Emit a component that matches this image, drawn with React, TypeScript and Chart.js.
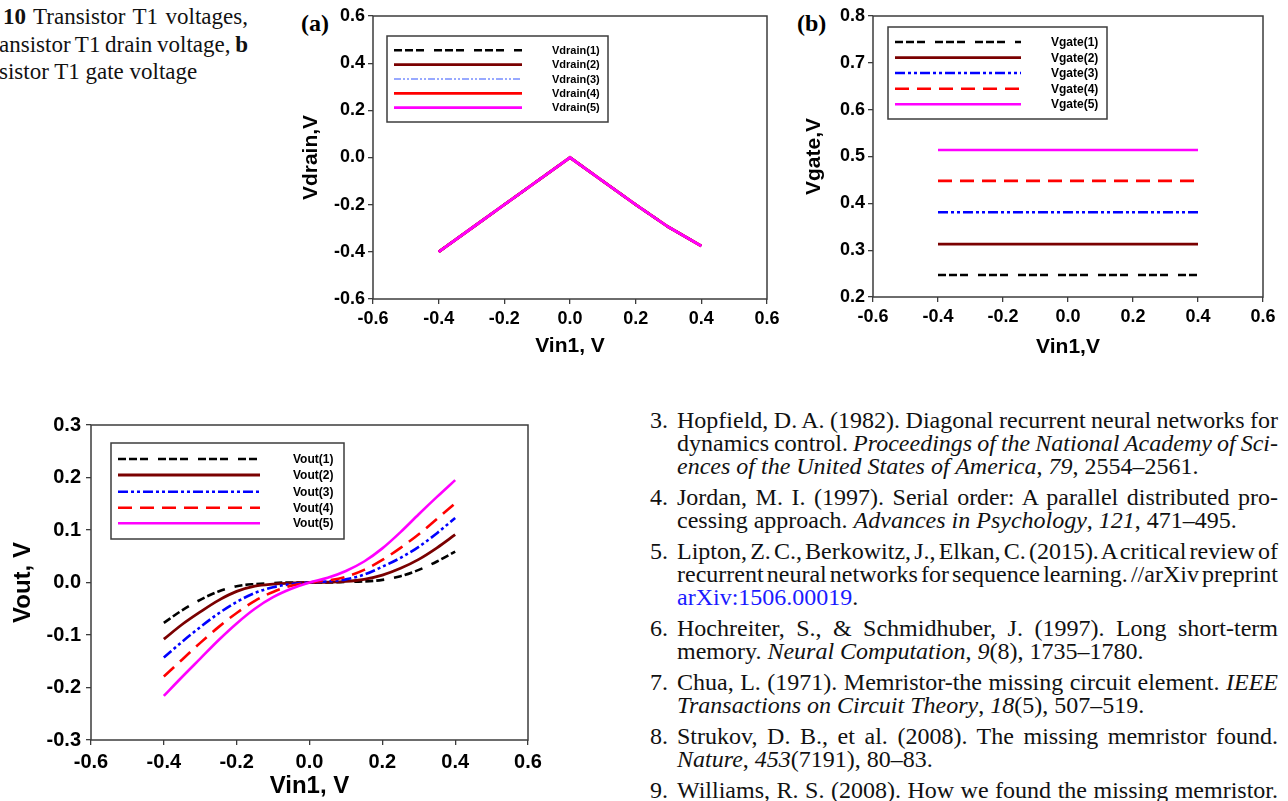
import React, { useEffect, useRef } from "react";
import { Chart, registerables } from "chart.js";
Chart.register(...registerables);

// ---------- data ----------
const VIN = [-0.4, -0.3, -0.2, -0.1, 0, 0.1, 0.2, 0.3, 0.4];
const VDRAIN_1 = [-0.4, -0.3, -0.2, -0.1, 0, -0.1, -0.2, -0.295, -0.375];
const VDRAIN_2 = [-0.4, -0.3, -0.2, -0.1, 0, -0.1, -0.2, -0.295, -0.375];
const VDRAIN_3 = [-0.4, -0.3, -0.2, -0.1, 0, -0.1, -0.2, -0.295, -0.375];
const VDRAIN_4 = [-0.4, -0.3, -0.2, -0.1, 0, -0.1, -0.2, -0.295, -0.375];
const VDRAIN_5 = [-0.4, -0.3, -0.2, -0.1, 0, -0.1, -0.2, -0.295, -0.375];
const VDRAIN_LABELS = ["Vdrain(1)", "Vdrain(2)", "Vdrain(3)", "Vdrain(4)", "Vdrain(5)"];

const VGATE_X = [-0.4, 0.4];
const VGATE_1 = [0.247, 0.247];
const VGATE_2 = [0.313, 0.313];
const VGATE_3 = [0.381, 0.381];
const VGATE_4 = [0.448, 0.448];
const VGATE_5 = [0.514, 0.514];
const VGATE_LABELS = ["Vgate(1)", "Vgate(2)", "Vgate(3)", "Vgate(4)", "Vgate(5)"];

const VOUT_X = [-0.4, -0.35, -0.3, -0.25, -0.2, -0.15, -0.1, -0.05, 0, 0.05, 0.1, 0.15, 0.2, 0.25, 0.3, 0.35, 0.4];
const VOUT_1 = [-0.077, -0.053, -0.033, -0.017, -0.007, -0.003, -0.001, 0, 0, 0, 0.001, 0.002, 0.005, 0.012, 0.024, 0.04, 0.059];
const VOUT_2 = [-0.108, -0.08, -0.056, -0.034, -0.017, -0.007, -0.003, -0.001, 0, 0.0005, 0.002, 0.006, 0.014, 0.027, 0.044, 0.066, 0.091];
const VOUT_3 = [-0.143, -0.113, -0.085, -0.059, -0.037, -0.02, -0.009, -0.003, 0, 0.002, 0.006, 0.015, 0.03, 0.047, 0.068, 0.094, 0.123];
const VOUT_4 = [-0.179, -0.147, -0.115, -0.085, -0.058, -0.035, -0.018, -0.006, 0, 0.004, 0.011, 0.024, 0.043, 0.066, 0.092, 0.121, 0.151];
const VOUT_5 = [-0.216, -0.18, -0.145, -0.11, -0.078, -0.05, -0.028, -0.012, 0, 0.009, 0.022, 0.04, 0.065, 0.096, 0.13, 0.163, 0.195];
const VOUT_LABELS = ["Vout(1)", "Vout(2)", "Vout(3)", "Vout(4)", "Vout(5)"];

const X_TICKS = [-0.6, -0.4, -0.2, 0, 0.2, 0.4, 0.6];
const Y_TICKS_A = [-0.6, -0.4, -0.2, 0, 0.2, 0.4, 0.6];
const Y_TICKS_B = [0.2, 0.3, 0.4, 0.5, 0.6, 0.7, 0.8];
const Y_TICKS_C = [-0.3, -0.2, -0.1, 0, 0.1, 0.2, 0.3];

// ---------- styles ----------
const SANS = '"Liberation Sans", Arial, Helvetica, sans-serif';
const SERIF = '"Liberation Serif", "Times New Roman", Times, serif';
const FRAME = "#3c3c3c";

type Sty = { color: string; dash: number[]; width: number };
const STYLES: Sty[] = [
  { color: "#000000", dash: [8, 3, 8, 3, 8, 10], width: 2.6 },
  { color: "#7a0000", dash: [], width: 2.8 },
  { color: "#0000ff", dash: [10, 3, 3, 3, 3, 3], width: 2.6 },
  { color: "#ff0000", dash: [14, 8], width: 2.6 },
  { color: "#ff00ff", dash: [], width: 2.6 },
];
const STYLES_A: Sty[] = [
  { color: "#000000", dash: [8, 3, 8, 3, 8, 10], width: 2.6 },
  { color: "#7a0000", dash: [], width: 2.8 },
  { color: "#3355ff", dash: [7, 2, 2, 2, 2, 2], width: 1.2 },
  { color: "#ff0000", dash: [], width: 2.8 },
  { color: "#ff00ff", dash: [], width: 2.8 },
];

function makeSets(xs: number[], series: number[][], labels: string[], styles: Sty[], smooth: boolean) {
  return series.map((ys, i) => ({
    label: labels[i],
    data: xs.map((x, j) => ({ x, y: ys[j] })),
    borderColor: styles[i].color,
    backgroundColor: styles[i].color,
    borderDash: styles[i].dash,
    borderWidth: styles[i].width,
    pointRadius: 0,
    fill: false,
    order: series.length - 1 - i,
    cubicInterpolationMode: smooth ? ("monotone" as const) : ("default" as const),
    tension: 0,
  }));
}

type LegendCfg = { x: number; y: number; w: number; h: number; x1: number; x2: number; tx: number; rows: number[]; font: string };

const framePlugin = {
  id: "frameBox",
  afterDraw(chart: any) {
    const { ctx, chartArea } = chart;
    ctx.save();
    ctx.strokeStyle = FRAME;
    ctx.lineWidth = 1.5;
    ctx.setLineDash([]);
    ctx.strokeRect(chartArea.left, chartArea.top, chartArea.right - chartArea.left, chartArea.bottom - chartArea.top);
    ctx.restore();
  },
};

function legendPlugin(cfg: LegendCfg) {
  return {
    id: "boxLegend",
    afterDraw(chart: any) {
      const ctx = chart.ctx;
      ctx.save();
      ctx.fillStyle = "#ffffff";
      ctx.fillRect(cfg.x, cfg.y, cfg.w, cfg.h);
      ctx.strokeStyle = FRAME;
      ctx.lineWidth = 1.5;
      ctx.setLineDash([]);
      ctx.strokeRect(cfg.x, cfg.y, cfg.w, cfg.h);
      chart.data.datasets.forEach((ds: any, i: number) => {
        const ry = cfg.rows[i];
        ctx.beginPath();
        ctx.setLineDash(ds.borderDash || []);
        ctx.strokeStyle = ds.borderColor;
        ctx.lineWidth = ds.borderWidth;
        ctx.moveTo(cfg.x1, ry);
        ctx.lineTo(cfg.x2, ry);
        ctx.stroke();
        ctx.setLineDash([]);
        ctx.fillStyle = "#000";
        ctx.font = cfg.font;
        ctx.textBaseline = "middle";
        ctx.textAlign = "left";
        ctx.fillText(ds.label, cfg.tx, ry + 0.5);
      });
      ctx.restore();
    },
  };
}

const fmt = (v: number) => (Math.abs(v) < 1e-9 ? "0.0" : Number(v).toFixed(1));

type PanelProps = {
  left: number; top: number; width: number; height: number;
  yAxisW: number; padTop: number; padRight: number; xAxisH: number;
  xMin: number; xMax: number; yMin: number; yMax: number;
  xTicks: number[]; yTicks: number[];
  tickSize: number; titleSize: number;
  xTitle: string; yTitle: string; xTitlePad: number; yTitlePad: number;
  xTickPad: number; yTickPad: number;
  datasets: any[]; legend: LegendCfg;
};

function Panel(p: PanelProps) {
  const ref = useRef<HTMLCanvasElement>(null);
  useEffect(() => {
    const tickFont = { family: SANS, size: p.tickSize, weight: "bold" as const };
    const titleFont = { family: SANS, size: p.titleSize, weight: "bold" as const };
    const grid = { drawOnChartArea: false, drawTicks: true, tickLength: 5, color: FRAME, lineWidth: 1.3 };
    const chart = new Chart(ref.current!, {
      type: "line",
      data: { datasets: p.datasets },
      options: {
        responsive: false,
        animation: false,
        devicePixelRatio: 1,
        events: [],
        layout: { padding: { left: 0, top: p.padTop, right: p.padRight, bottom: 0 } },
        plugins: { legend: { display: false }, tooltip: { enabled: false } },
        scales: {
          x: {
            type: "linear",
            min: p.xMin,
            max: p.xMax,
            afterBuildTicks: (s: any) => { s.ticks = p.xTicks.map((v) => ({ value: v })); },
            afterFit: (s: any) => { s.height = p.xAxisH; },
            ticks: { color: "#000", font: tickFont, padding: p.xTickPad, callback: (v: any) => fmt(v), autoSkip: false, maxRotation: 0 },
            grid,
            border: { display: false },
            title: { display: true, text: p.xTitle, color: "#000", font: titleFont, padding: { top: 0, bottom: p.xTitlePad } },
          },
          y: {
            type: "linear",
            min: p.yMin,
            max: p.yMax,
            afterBuildTicks: (s: any) => { s.ticks = p.yTicks.map((v) => ({ value: v })); },
            afterFit: (s: any) => { s.width = p.yAxisW; },
            ticks: { color: "#000", font: tickFont, padding: p.yTickPad, callback: (v: any) => fmt(v), autoSkip: false },
            grid,
            border: { display: false },
            title: { display: true, text: p.yTitle, color: "#000", font: titleFont, padding: { top: p.yTitlePad, bottom: 0 } },
          },
        },
      } as any,
      plugins: [framePlugin, legendPlugin(p.legend)],
    });
    return () => chart.destroy();
  }, []);
  return (
    <canvas
      ref={ref}
      width={p.width}
      height={p.height}
      style={{ position: "absolute", left: p.left, top: p.top, width: p.width, height: p.height }}
    />
  );
}

const REF_SIZE = 24;

const refLine = (top: number, justify: boolean, children: React.ReactNode, key: string) => (
  <div
    key={key}
    style={{
      position: "absolute",
      left: 677,
      top,
      width: 601,
      fontFamily: SERIF,
      fontSize: REF_SIZE,
      lineHeight: "23px",
      textAlign: justify ? "justify" : "left",
      textAlignLast: justify ? "justify" : "left",
      wordSpacing: justify ? "-4px" : "normal",
      whiteSpace: justify ? "normal" : "nowrap",
      color: "#111",
    }}
  >
    {children}
  </div>
);

const num = (top: number, n: string) => (
  <div key={"n" + n} style={{ position: "absolute", left: 650, top, fontFamily: SERIF, fontSize: REF_SIZE, lineHeight: "23px", color: "#111" }}>
    {n}
  </div>
);

export default function App() {
  const setsA = makeSets(VIN, [VDRAIN_1, VDRAIN_2, VDRAIN_3, VDRAIN_4, VDRAIN_5], VDRAIN_LABELS, STYLES_A, false);
  const setsB = makeSets(VGATE_X, [VGATE_1, VGATE_2, VGATE_3, VGATE_4, VGATE_5], VGATE_LABELS, STYLES, false);
  const setsC = makeSets(VOUT_X, [VOUT_1, VOUT_2, VOUT_3, VOUT_4, VOUT_5], VOUT_LABELS, STYLES, true);

  const cap = { position: "absolute" as const, fontFamily: SERIF, fontSize: 23, lineHeight: "27px", color: "#111", whiteSpace: "nowrap" as const };

  return (
    <div style={{ position: "absolute", left: 0, top: 0, width: 1288, height: 801, overflow: "hidden", background: "#fff" }}>
      {/* caption */}
      <div style={{ ...cap, left: 3, top: 3, width: 245, textAlign: "justify", textAlignLast: "justify", whiteSpace: "normal", wordSpacing: "-2px" }}>
        <b>10</b> Transistor T1 voltages,
      </div>
      <div style={{ ...cap, left: -1, top: 31, width: 249, textAlign: "justify", textAlignLast: "justify", whiteSpace: "normal", wordSpacing: "-3px" }}>
        ansistor T1 drain voltage, <b>b</b>
      </div>
      <div style={{ ...cap, left: -1, top: 58 }}>sistor T1 gate voltage</div>

      {/* panel labels */}
      <div style={{ position: "absolute", left: 301, top: 9, fontFamily: SERIF, fontWeight: "bold", fontSize: 24, lineHeight: "28px" }}>(a)</div>
      <div style={{ position: "absolute", left: 797, top: 9, fontFamily: SERIF, fontWeight: "bold", fontSize: 24, lineHeight: "28px" }}>(b)</div>

      <Panel
        left={290} top={0} width={500} height={360}
        yAxisW={83} padTop={16} padRight={23} xAxisH={61}
        xMin={-0.6} xMax={0.6} yMin={-0.6} yMax={0.6}
        xTicks={X_TICKS} yTicks={Y_TICKS_A}
        tickSize={18} titleSize={21}
        xTitle="Vin1, V" yTitle="Vdrain,V" xTitlePad={1} yTitlePad={9}
        xTickPad={4} yTickPad={3}
        datasets={setsA}
        legend={{ x: 97, y: 36, w: 221, h: 86, x1: 104, x2: 232, tx: 262, rows: [50.3, 64.7, 79, 93.3, 107.7], font: `bold 11px ${SANS}` }}
      />
      <Panel
        left={790} top={0} width={498} height={360}
        yAxisW={83} padTop={16} padRight={25} xAxisH={63}
        xMin={-0.6} xMax={0.6} yMin={0.2} yMax={0.8}
        xTicks={X_TICKS} yTicks={Y_TICKS_B}
        tickSize={18} titleSize={21}
        xTitle="Vin1,V" yTitle="Vgate,V" xTitlePad={0} yTitlePad={12}
        xTickPad={4} yTickPad={3}
        datasets={setsB}
        legend={{ x: 98, y: 27, w: 219, h: 92, x1: 105, x2: 231, tx: 261, rows: [42, 57.7, 73, 88.7, 104.3], font: `bold 12px ${SANS}` }}
      />
      <Panel
        left={0} top={400} width={560} height={401}
        yAxisW={91} padTop={25} padRight={32} xAxisH={61}
        xMin={-0.6} xMax={0.6} yMin={-0.3} yMax={0.3}
        xTicks={X_TICKS} yTicks={Y_TICKS_C}
        tickSize={20} titleSize={24}
        xTitle="Vin1, V" yTitle="Vout, V" xTitlePad={0} yTitlePad={9}
        xTickPad={5} yTickPad={5}
        datasets={setsC}
        legend={{ x: 111, y: 43, w: 233, h: 96, x1: 118, x2: 260, tx: 293, rows: [59, 75, 91.7, 107.7, 123.3], font: `bold 12px ${SANS}` }}
      />

      {/* references */}
      {num(408.5, "3.")}
      {refLine(408.5, true, <>Hopfield, D. A. (1982). Diagonal recurrent neural networks for</>, "r3a")}
      {refLine(431.5, true, <>dynamics control. <i>Proceedings of the National Academy of Sci-</i></>, "r3b")}
      {refLine(454.5, false, <><i>ences of the United States of America</i>, <i>79</i>, 2554–2561.</>, "r3c")}
      {num(485.5, "4.")}
      {refLine(485.5, true, <>Jordan, M. I. (1997). Serial order: A parallel distributed pro-</>, "r4a")}
      {refLine(508.5, false, <>cessing approach. <i>Advances in Psychology</i>, <i>121</i>, 471–495.</>, "r4b")}
      {num(539.5, "5.")}
      {refLine(539.5, true, <>Lipton, Z. C., Berkowitz, J., Elkan, C. (2015). A critical review of</>, "r5a")}
      {refLine(562.5, true, <>recurrent neural networks for sequence learning. //arXiv preprint</>, "r5b")}
      {refLine(585.5, false, <><span style={{ color: "#1a1aff" }}>arXiv:1506.00019</span>.</>, "r5c")}
      {num(616.5, "6.")}
      {refLine(616.5, true, <>Hochreiter, S., &amp; Schmidhuber, J. (1997). Long short-term</>, "r6a")}
      {refLine(639.5, false, <>memory. <i>Neural Computation</i>, <i>9</i>(8), 1735–1780.</>, "r6b")}
      {num(670.5, "7.")}
      {refLine(670.5, true, <>Chua, L. (1971). Memristor-the missing circuit element. <i>IEEE</i></>, "r7a")}
      {refLine(693.5, false, <><i>Transactions on Circuit Theory</i>, <i>18</i>(5), 507–519.</>, "r7b")}
      {num(724.5, "8.")}
      {refLine(724.5, true, <>Strukov, D. B., et al. (2008). The missing memristor found.</>, "r8a")}
      {refLine(747.5, false, <><i>Nature</i>, <i>453</i>(7191), 80–83.</>, "r8b")}
      {num(778.5, "9.")}
      {refLine(778.5, true, <>Williams, R. S. (2008). How we found the missing memristor.</>, "r9a")}
    </div>
  );
}
